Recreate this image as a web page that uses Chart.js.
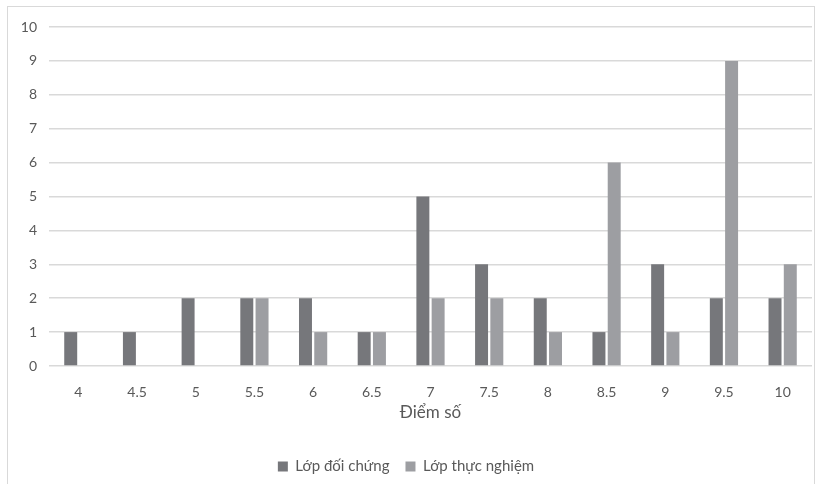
<!DOCTYPE html>
<html>
<head>
<meta charset="utf-8">
<script src="https://cdn.jsdelivr.net/npm/chart.js@4/dist/chart.umd.min.js"></script>
<style>
  body { margin: 0; background: #fff; }
  #wrap { position: relative; width: 817px; height: 484px; }
  #frame { position: absolute; left: 7px; top: 6px; width: 808px; height: 480px; border: 1px solid #d9d9d9; box-sizing: border-box; }
  canvas { position: absolute; left: 0; top: 0; }
</style>
</head>
<body>
<div id="wrap">
  <div id="frame"></div>
  <canvas id="chart" width="817" height="484"></canvas>
</div>
<script>
const categories = ['4', '4.5', '5', '5.5', '6', '6.5', '7', '7.5', '8', '8.5', '9', '9.5', '10'];
const doiChung = [1, 1, 2, 2, 2, 1, 5, 3, 2, 1, 3, 2, 2];
const thucNghiem = [0, 0, 0, 2, 1, 1, 2, 2, 1, 6, 1, 9, 3];
const yTicks = [0, 1, 2, 3, 4, 5, 6, 7, 8, 9, 10];

document.addEventListener('DOMContentLoaded', function(){
    const ctx = document.getElementById('chart').getContext('2d');
    Chart.defaults.font.family = 'Lato, "Open Sans", sans-serif';
    Chart.defaults.color = '#595959';
    new Chart(ctx, {
        type: 'bar',
        data: {
            labels: categories,
            datasets: [{
                label: 'Lớp đối chứng',
                data: doiChung,
                backgroundColor: '#76777b'
            }, {
                label: 'Lớp thực nghiệm',
                data: thucNghiem,
                backgroundColor: '#9d9ea2'
            }]
        },
        options: {
            responsive: false,
            animation: false,
            layout: { padding: { left: 0, right: 5, top: 27, bottom: 0 } },
            datasets: { bar: { categoryPercentage: 0.52, barPercentage: 0.85 } },
            scales: {
                x: {
                    grid: { display: false },
                    border: { display: false },
                    ticks: { font: { size: 14 }, padding: 10 },
                    title: { display: true, text: 'Điểm số', font: { size: 17 }, padding: { top: 20, bottom: 20 } },
                    afterFit: function(s){ s.height = 77; }
                },
                y: {
                    min: 0, max: 10,
                    afterBuildTicks: function(s){ s.ticks = yTicks.map(v => ({ value: v })); },
                    grid: { color: '#d9d9d9', lineWidth: 1.5, drawTicks: false },
                    border: { display: false },
                    ticks: { font: { size: 14 }, padding: 12 },
                    afterFit: function(s){ s.width = 49; }
                }
            },
            plugins: {
                tooltip: { enabled: false },
                legend: {
                    position: 'bottom',
                    labels: { boxWidth: 10, boxHeight: 10, font: { size: 15 }, padding: 16 }
                }
            }
        }
    });
});
</script>
</body>
</html>
